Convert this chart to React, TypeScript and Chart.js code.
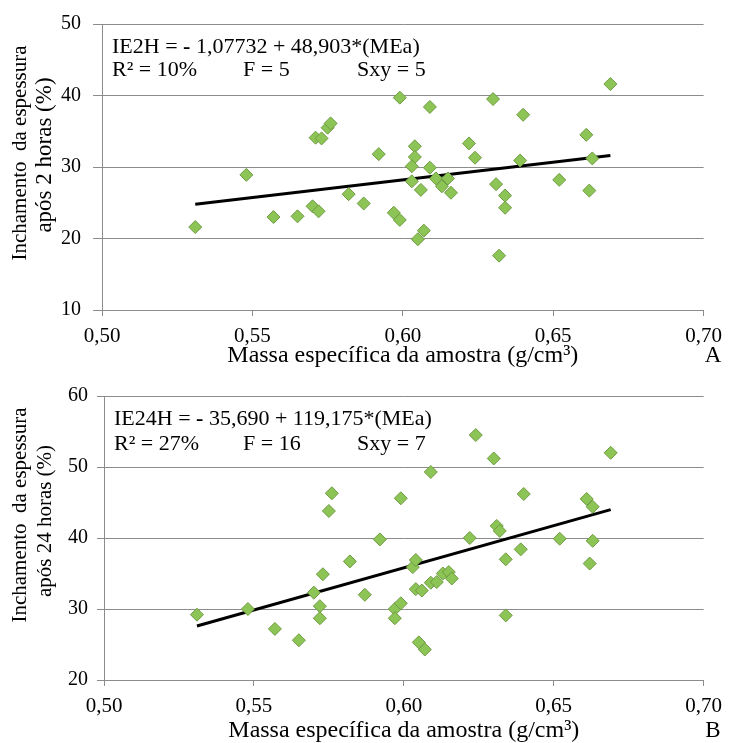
import React, { useEffect, useRef } from 'react';
import { Chart, registerables } from 'chart.js';

Chart.register(...registerables);

const FONT = '"Liberation Serif", "DejaVu Serif", serif';

// ---- data ----
const xTickLabels = ['0,50', '0,55', '0,60', '0,65', '0,70'];

const massaA = [
  0.531, 0.548, 0.557, 0.565, 0.570, 0.572, 0.571, 0.573, 0.575, 0.576,
  0.582, 0.587, 0.592, 0.597, 0.599, 0.599, 0.604, 0.604, 0.603, 0.603,
  0.606, 0.609, 0.609, 0.611, 0.613, 0.615, 0.616, 0.605, 0.607, 0.622,
  0.624, 0.630, 0.631, 0.634, 0.634, 0.632, 0.640, 0.639, 0.652, 0.661,
  0.663, 0.662, 0.669,
];
const ie2h = [
  21.6, 28.9, 23.0, 23.1, 24.5, 23.8, 34.1, 34.0, 35.5, 36.1,
  26.2, 24.9, 31.8, 23.6, 22.6, 39.7, 32.9, 31.4, 30.1, 28.0,
  26.8, 38.4, 29.9, 28.4, 27.3, 28.4, 26.4, 19.9, 21.1, 33.3,
  31.3, 39.5, 27.6, 26.0, 24.3, 17.6, 37.3, 30.9, 28.2, 34.5,
  31.2, 26.7, 41.6,
];

const massaB = [
  0.531, 0.548, 0.557, 0.565, 0.570, 0.572, 0.572, 0.573, 0.575, 0.576,
  0.582, 0.587, 0.592, 0.597, 0.597, 0.599, 0.599, 0.603, 0.604, 0.604,
  0.606, 0.605, 0.607, 0.609, 0.609, 0.611, 0.613, 0.615, 0.616, 0.622,
  0.624, 0.630, 0.631, 0.632, 0.634, 0.634, 0.639, 0.640, 0.652, 0.661,
  0.663, 0.663, 0.662, 0.669,
];
const ie24h = [
  29.2, 30.0, 27.2, 25.6, 32.3, 30.4, 28.7, 34.9, 43.8, 46.3,
  36.7, 32.0, 39.8, 30.0, 28.7, 30.8, 45.6, 35.9, 36.9, 32.8,
  32.6, 25.3, 24.3, 49.3, 33.7, 33.8, 35.0, 35.2, 34.3, 40.0,
  54.5, 51.2, 41.7, 41.0, 37.0, 29.1, 38.4, 46.2, 39.9, 45.5,
  44.4, 39.6, 36.4, 52.0,
];

const trendX = [0.531, 0.669];
const trendA = [24.8, 31.6];
const trendB = [27.6, 44.0];

const yRangeA = [10, 50];
const yRangeB = [20, 60];

const xTitle = 'Massa específica da amostra (g/cm³)';

interface Panel {
  xs: number[];
  ys: number[];
  trend: number[];
  yRange: number[];
  eqPre: string;
  eqPost: string;
  r2: string;
  f: string;
  sxy: string;
  yTitle: string[];
  yTitleSize: number[];
  letter: string;
  height: number;
  top: number;
  yWidth: number;
  right: number;
  xHeight: number;
  yTickLen: number;
  yTickPad: number;
  fOff: number;
  sOff: number;
  line1: number;
  line2: number;
  yTitleY: number[];
  xTitleY: number;
}

const panels: Panel[] = [
  {
    xs: massaA, ys: ie2h, trend: trendA, yRange: yRangeA,
    eqPre: 'IE2H = ', eqPost: ' 1,07732 + 48,903*(MEa)', r2: 'R² = 10%', f: 'F = 5', sxy: 'Sxy = 5',
    yTitle: ['Inchamento  da espessura', 'após 2 horas (%)'], yTitleSize: [21, 23], letter: 'A',
    height: 370, top: 23, yWidth: 102, right: 20, xHeight: 60,
    yTickLen: 9, yTickPad: 12, fOff: 141, sOff: 255, line1: 29, line2: 52,
    yTitleY: [153, 155], xTitleY: 356,
  },
  {
    xs: massaB, ys: ie24h, trend: trendB, yRange: yRangeB,
    eqPre: 'IE24H = ', eqPost: ' 35,690 + 119,175*(MEa)', r2: 'R² = 27%', f: 'F = 16', sxy: 'Sxy = 7',
    yTitle: ['Inchamento  da espessura', 'após 24 horas (%)'], yTitleSize: [21, 21], letter: 'B',
    height: 373, top: 26, yWidth: 104, right: 24, xHeight: 63,
    yTickLen: 7, yTickPad: 9, fOff: 139, sOff: 253, line1: 29, line2: 54,
    yTitleY: [145, 151], xTitleY: 361,
  },
];

function ChartPanel({ p }: { p: Panel }) {
  const ref = useRef<HTMLCanvasElement | null>(null);

  useEffect(() => {
    if (!ref.current) return;
    const textPlugin = {
      id: 'panelText',
      afterDraw(chart: any) {
        const ctx = chart.ctx;
        const a = chart.chartArea;
        ctx.save();
        ctx.fillStyle = '#000';
        // regression annotation
        ctx.font = `22px ${FONT}`;
        ctx.textAlign = 'left';
        ctx.textBaseline = 'alphabetic';
        const lx = a.left + 10;
        const y1 = a.top + p.line1;
        ctx.fillText(p.eqPre, lx, y1);
        let cx = lx + ctx.measureText(p.eqPre).width;
        ctx.font = `bold 22px ${FONT}`;
        ctx.fillText('-', cx, y1);
        cx += ctx.measureText('-').width;
        ctx.font = `22px ${FONT}`;
        ctx.fillText(p.eqPost, cx, y1);
        ctx.fillText(p.r2, lx, a.top + p.line2);
        ctx.fillText(p.f, a.left + p.fOff, a.top + p.line2);
        ctx.fillText(p.sxy, a.left + p.sOff, a.top + p.line2);
        // y title (two rotated lines)
        ctx.textAlign = 'center';
        ctx.textBaseline = 'middle';
        const xs = [20, 45];
        p.yTitle.forEach((t, i) => {
          ctx.save();
          ctx.font = `${p.yTitleSize[i]}px ${FONT}`;
          ctx.translate(xs[i], p.yTitleY[i]);
          ctx.rotate(-Math.PI / 2);
          ctx.fillText(t, 0, 0);
          ctx.restore();
        });
        // x title and panel letter
        ctx.font = `24px ${FONT}`;
        ctx.fillText(xTitle, (a.left + a.right) / 2, p.xTitleY);
        ctx.font = `23px ${FONT}`;
        ctx.fillText(p.letter, 713, p.xTitleY);
        ctx.restore();
      },
    };

    const chart = new Chart(ref.current, {
      type: 'scatter',
      data: {
        datasets: [
          {
            type: 'scatter',
            data: p.xs.map((x, i) => ({ x, y: p.ys[i] })),
            pointStyle: 'rectRot',
            pointRadius: 6.5,
            backgroundColor: '#8dc456',
            borderColor: '#6e9b42',
            borderWidth: 1,
          },
          {
            type: 'line',
            data: trendX.map((x, i) => ({ x, y: p.trend[i] })),
            borderColor: '#000',
            borderWidth: 3,
            pointRadius: 0,
            fill: false,
          } as any,
        ],
      },
      options: {
        animation: false,
        responsive: false,
        devicePixelRatio: 1,
        layout: { padding: { top: p.top, left: 0, right: p.right, bottom: 0 } },
        plugins: { legend: { display: false }, tooltip: { enabled: false } },
        scales: {
          x: {
            type: 'linear',
            min: 0.5,
            max: 0.7,
            afterFit: (s: any) => { s.height = p.xHeight; },
            ticks: {
              stepSize: 0.05,
              color: '#000',
              font: { family: FONT, size: 21 },
              padding: 8,
              maxRotation: 0,
              callback: (_v: any, i: number) => xTickLabels[i],
            },
            grid: { drawOnChartArea: false, drawTicks: true, tickLength: 6, color: '#8c8c8c' },
            border: { display: true, color: '#8c8c8c', width: 1 },
          },
          y: {
            type: 'linear',
            min: p.yRange[0],
            max: p.yRange[1],
            afterFit: (s: any) => { s.width = p.yWidth; },
            ticks: {
              stepSize: 10,
              color: '#000',
              font: { family: FONT, size: 20 },
              padding: p.yTickPad,
            },
            grid: { drawOnChartArea: true, drawTicks: true, tickLength: p.yTickLen, color: '#8c8c8c' },
            border: { display: true, color: '#8c8c8c', width: 1 },
          },
        },
      },
      plugins: [textPlugin],
    } as any);
    return () => chart.destroy();
  }, [p]);

  return (
    <canvas
      ref={ref}
      width={730}
      height={p.height}
      style={{ display: 'block', width: 730, height: p.height }}
    />
  );
}

export default function App() {
  return (
    <div style={{ position: 'absolute', left: 0, top: 0, width: 730, height: 743, background: '#fff' }}>
      {panels.map((p, i) => (
        <ChartPanel key={i} p={p} />
      ))}
    </div>
  );
}
